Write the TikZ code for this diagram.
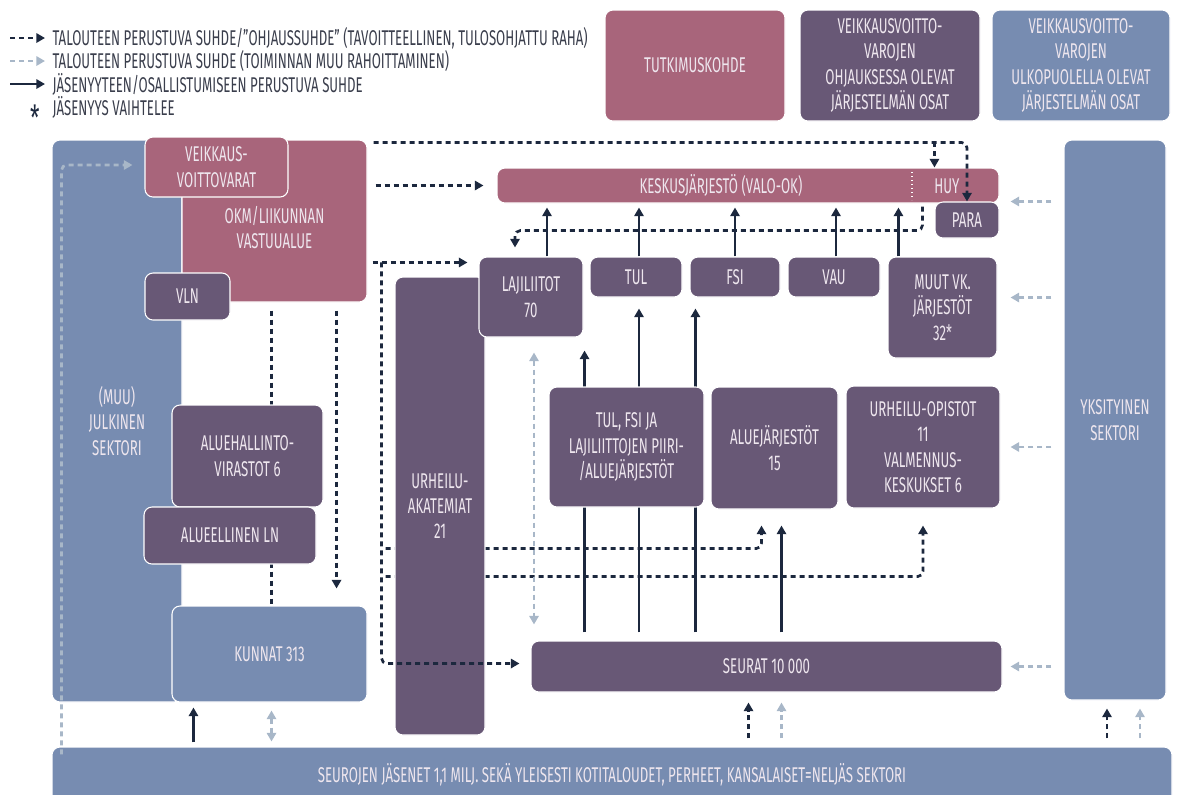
\documentclass[tikz,border=0pt]{standalone}
\usepackage{fontspec}
\setmainfont{Fira Sans}[FakeStretch=0.62]
\usetikzlibrary{arrows.meta,calc}

\definecolor{tutkpink}{RGB}{168,101,123}
\definecolor{ohjpurple}{RGB}{104,88,118}
\definecolor{ulkblue}{RGB}{119,140,177}
\definecolor{boxtext}{RGB}{238,230,238}
\definecolor{nuoli}{RGB}{28,40,62}
\definecolor{vaalea}{RGB}{168,183,200}
\definecolor{selite}{RGB}{58,62,76}

\pgfdeclarelayer{taka}
\pgfsetlayers{taka,main}

\tikzset{every picture/.style={line width=0.75pt}}
\tikzset{
  laatikko/.style={rounded corners=6pt, inner sep=0pt, draw=white, line width=0.8pt, text=boxtext, align=center, font=\fontsize{16}{19}\selectfont},
  koko/.style 2 args={minimum width=#1*0.75pt, minimum height=#2*0.75pt},
  pinkbox/.style={laatikko, fill=tutkpink},
  purplebox/.style={laatikko, fill=ohjpurple},
  bluebox/.style={laatikko, fill=ulkblue},
  boxlbl/.style={text=boxtext, inner sep=0pt, font=\fontsize{16}{19}\selectfont},
  selitys/.style={text=selite, anchor=west, inner sep=0pt, font=\fontsize{16}{19}\selectfont},
  ohjaus/.style={nuoli, line width=2pt, dash pattern=on 3.75pt off 3pt, -{Triangle[length=6.5pt,width=7pt]}},
  ohjausviiva/.style={nuoli, line width=2pt, dash pattern=on 3.75pt off 3pt},
  muuraha/.style={vaalea, line width=2pt, dash pattern=on 3.75pt off 3pt, -{Triangle[length=6.5pt,width=7pt]}},
  kaksoisnuoli/.style={muuraha, {Triangle[length=6.5pt,width=7pt]}-{Triangle[length=6.5pt,width=7pt]}},
  jasen/.style={nuoli, line width=2pt, -{Triangle[length=6.5pt,width=7pt]}}
}

\begin{document}
\begin{tikzpicture}[x=0.75pt,y=0.75pt,yscale=-1,xscale=1]
\useasboundingbox (0,0) rectangle (1178,794);

% selitteet
\coordinate (ls1) at (10,38); \coordinate (le1) at (45,38);
\coordinate (ls2) at (10,61); \coordinate (le2) at (45,61);
\coordinate (ls3) at (10,84); \coordinate (le3) at (45,84);
\draw[ohjaus] (ls1) -- (le1);
\draw[muuraha] (ls2) -- (le2);
\draw[jasen] (ls3) -- (le3);
\node[selitys] (lt1) at (52,38) {TALOUTEEN PERUSTUVA SUHDE/"OHJAUSSUHDE" (TAVOITTEELLINEN, TULOSOHJATTU RAHA)};
\node[selitys] (lt2) at (52,61) {TALOUTEEN PERUSTUVA SUHDE (TOIMINNAN MUU RAHOITTAMINEN)};
\node[selitys] (lt3) at (52,84) {JÄSENYYTEEN/OSALLISTUMISEEN PERUSTUVA SUHDE};
\node[text=nuoli, inner sep=0pt, font=\fontsize{26}{26}\selectfont] (tahti) at (35,118) {*};
\node[selitys] (lt4) at (52,107) {JÄSENYYS VAIHTELEE};

\node[pinkbox, koko={180}{111}] (tutk) at (695,65.5) {TUTKIMUSKOHDE};
\node[purplebox, koko={180}{111}] (ohjvar) at (890,65.5) {VEIKKAUSVOITTO-\\VAROJEN\\OHJAUKSESSA OLEVAT\\JÄRJESTELMÄN OSAT};
\node[bluebox, koko={178}{111}] (ulkvar) at (1081,65.5) {VEIKKAUSVOITTO-\\VAROJEN\\ULKOPUOLELLA OLEVAT\\JÄRJESTELMÄN OSAT};

% julkinen puoli
\node[bluebox, koko={130}{562}] (julk) at (117,421) {(MUU)\\JULKINEN\\SEKTORI};
\node[bluebox, koko={195}{96}] (kunnat) at (269.5,654) {KUNNAT 313};
\node[pinkbox, koko={185}{162}] (okm) at (274.5,221) {\\[4pt]OKM/LIIKUNNAN\\VASTUUALUE};
\node[pinkbox, koko={143}{60}] (veik) at (216.5,167) {VEIKKAUS-\\VOITTOVARAT};
\node[purplebox, koko={85}{47}] (vln) at (187.5,296.5) {VLN};
\node[purplebox, koko={151}{102}] (aluehal) at (247.5,456) {ALUEHALLINTO-\\VIRASTOT 6};
\node[purplebox, koko={172}{57}] (alueln) at (230,535.5) {ALUEELLINEN LN};
\node[purplebox, koko={90}{458}] (urhak) at (440,506) {URHEILU-\\AKATEMIAT\\21};

% jarjestot
\node[pinkbox, koko={502}{35}] (keskus) at (748,185.5) {};
\node[boxlbl] (valook) at (721,186) {KESKUSJÄRJESTÖ (VALO-OK)};
\node[boxlbl] (huy) at (947,186) {HUY};
\draw[white, line width=1pt, dotted] (912,172) -- (912,200);
\node[purplebox, koko={64}{36}] (para) at (967,220) {PARA};
\node[purplebox, koko={104}{80}] (laji) at (531,297) {LAJILIITOT\\70};
\node[purplebox, koko={92}{40}] (tul) at (636,277) {TUL};
\node[purplebox, koko={90}{40}] (fsi) at (735,277) {FSI};
\node[purplebox, koko={92}{40}] (vau) at (834,277) {VAU};
\node[purplebox, koko={109}{101}] (muut) at (942.5,307.5) {MUUT VK.\\JÄRJESTÖT\\32*};
\node[purplebox, koko={155}{120}] (tulfsi) at (626.5,447) {TUL, FSI JA\\LAJILIITTOJEN PIIRI-\\/ALUEJÄRJESTÖT};
\node[purplebox, koko={127}{122}] (aluej) at (774.5,448) {ALUEJÄRJESTÖT\\15};
\node[purplebox, koko={154}{122}] (opistot) at (923,447) {URHEILU-OPISTOT\\11\\VALMENNUS-\\KESKUKSET 6};
\node[purplebox, koko={471}{51}] (seurat) at (766.5,666.5) {SEURAT 10 000};
\node[bluebox, koko={102}{560}] (yks) at (1115,420) {YKSITYINEN\\SEKTORI};
\node[bluebox, koko={1120}{56}] (kansa) at (612,775) {SEUROJEN JÄSENET 1,1 MILJ. SEKÄ YLEISESTI KOTITALOUDET, PERHEET, KANSALAISET=NELJÄS SEKTORI};

% yhteydet laatikoiden takana
\begin{pgfonlayer}{taka}
\coordinate (akat) at ($(laji.north west)+(0,6)$);
\coordinate (akv) at ($(okm.east |- akat)+(14,0)$);
\draw[ohjaus, rounded corners=4pt] ($(akv |- aluej.south)+(4,39)$) -| ($(aluej.south)+(-13,16)$);
\draw[ohjaus, rounded corners=4pt] ($(akv |- opistot.south)+(4,68)$) -| ($(opistot.south)+(0,17)$);
\draw[ohjausviiva] ($(kunnat.north |- okm.south)+(2,8)$) -- ($(kunnat.north)+(2,0)$);
\draw[jasen] ($(laji.south east |- seurat.north)+(1,-8)$) -- ($(laji.south east)+(1,13)$);
\draw[jasen] ($(tul.south |- seurat.north)+(3,-8)$) -- ($(tul.south)+(3,11)$);
\draw[jasen] ($(fsi.south west |- seurat.north)+(6,-8)$) -- ($(fsi.south west)+(6,11)$);
\end{pgfonlayer}

\draw[muuraha, rounded corners=4pt] ($(kansa.north west)+(10,8)$) |- ($(veik.west)+(-12,-2)$);
\draw[ohjaus] ($(okm.east |- keskus.west)+(8,0)$) -- ($(keskus.west)+(-13,0)$);
\draw[ohjaus] ($(okm.east |- akat)+(5,0)$) -- ($(akat)+(-11,0)$);
\draw[ohjaus, rounded corners=4pt] (akv) |- ($(seurat.west)+(-11,-3)$);
\draw[ohjaus] ($(okm.south east)+(-31,8)$) -- ($(kunnat.north east)+(-31,-17)$);

\coordinate (topl) at ($(okm.north east)+(6,3)$);
\draw[ohjaus, rounded corners=4pt] (topl) -| (para.north);
\draw[ohjaus] (topl -| para.west) -- (para.west |- keskus.north);
\draw[ohjaus, rounded corners=4pt] ($(para.west |- keskus.south)+(-12,3)$) -- ($(para.west |- keskus.south)+(-12,27)$) -| ($(laji.north)+(-16,-9)$);

\draw[jasen] ($(laji.north)+(16,0)$) -- ($(laji.north |- keskus.south)+(16,4)$);
\draw[jasen] ($(tul.north)+(3,0)$) -- ($(tul.north |- keskus.south)+(3,4)$);
\draw[jasen] (fsi.north) -- ($(fsi.north |- keskus.south)+(0,4)$);
\draw[jasen] ($(vau.north)+(2,0)$) -- ($(vau.north |- keskus.south)+(2,4)$);
\draw[jasen] ($(muut.north west)+(11,0)$) -- ($(muut.north west |- keskus.south)+(11,4)$);

\draw[jasen] ($(aluej.south |- seurat.north)+(7,-8)$) -- ($(aluej.south)+(7,16)$);
\draw[kaksoisnuoli] ($(laji.south)+(3,15)$) -- ($(laji.south |- seurat.north)+(3,-16)$);

\draw[muuraha] ($(yks.west |- para.north)+(-12,0)$) -- ($(para.north east)+(11,0)$);
\draw[muuraha] ($(yks.west |- muut.east)+(-12,-10)$) -- ($(muut.east)+(13,-10)$);
\draw[muuraha] ($(yks.west |- opistot.east)+(-12,0)$) -- ($(opistot.east)+(10,0)$);
\draw[muuraha] ($(yks.west |- seurat.east)+(-12,0)$) -- ($(seurat.east)+(8,0)$);

\draw[jasen] ($(kansa.north -| kunnat.south west)+(22,-4)$) -- ($(kunnat.south west)+(22,5)$);
\draw[kaksoisnuoli] ($(kunnat.south)+(2,8)$) -- ($(kunnat.south |- kansa.north)+(2,-5)$);
\draw[ohjaus] ($(seurat.south |- kansa.north)+(-18,-8)$) -- ($(seurat.south)+(-18,10)$);
\draw[muuraha] ($(seurat.south |- kansa.north)+(15,-8)$) -- ($(seurat.south)+(15,10)$);
\draw[ohjaus] ($(yks.south |- kansa.north)+(-8,-8)$) -- ($(yks.south)+(-8,8)$);
\draw[muuraha] ($(yks.south |- kansa.north)+(25,-8)$) -- ($(yks.south)+(25,8)$);

\end{tikzpicture}
\end{document}
